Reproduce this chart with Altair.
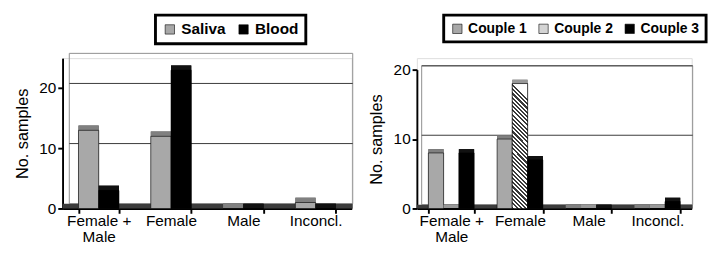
import altair as alt
import pandas as pd

categories = ["Female + Male", "Female", "Male", "Inconcl."]
saliva = [13, 12, 0, 1]
blood = [3, 23, 0, 0]
couple1 = [8, 10, 0, 0]
couple2 = [0, 18, 0, 0]
couple3 = [8, 7, 0, 1]
grid_values = [10, 20]
y_ticks = [0, 10, 20]

left_series = ["Saliva", "Blood"]
right_series = ["Couple 1", "Couple 2", "Couple 3"]

FONT = "Liberation Sans"
H = 157


def make_df(names, values):
    rows = []
    for name, vals in zip(names, values):
        for c, v in zip(categories, vals):
            rows.append({"cat": c, "series": name, "value": v})
    return pd.DataFrame(rows)


left_df = make_df(left_series, [saliva, blood])
right_df = make_df(right_series, [couple1, couple2, couple3])

# diagonal hatch as a striped gradient
N = 30
stops = []
for i in range(N):
    stops += [
        {"offset": i / N, "color": "#ffffff"},
        {"offset": (i + 0.5) / N, "color": "#ffffff"},
        {"offset": (i + 0.5) / N, "color": "#3a3a3a"},
        {"offset": (i + 1) / N, "color": "#3a3a3a"},
    ]
hatch = {"gradient": "linear", "x1": 0.1226, "y1": 0, "x2": 0, "y2": 1, "stops": stops}


def panel(df, series, colors, side_colors, top_colors, ymax, yrange_top, width,
          pad_inner, dx, dy, legend_x, legend_y, legend_font, hatch_series=None):
    x_enc = alt.X(
        "cat:N", sort=categories,
        scale=alt.Scale(domain=categories, paddingInner=pad_inner, paddingOuter=pad_inner / 2),
        axis=alt.Axis(
            title=None, labelAngle=0, tickBand="extent", domainColor="black",
            domainWidth=2, tickColor="black", tickWidth=2, tickSize=5,
            labelPadding=0, labelFontSize=16, labelColor="black", labelLineHeight=17,
            labelExpr="datum.label == 'Female + Male' ? ['Female +', 'Male'] : datum.label",
        ),
    )
    xo_enc = alt.XOffset("series:N", sort=series,
                         scale=alt.Scale(domain=series, paddingInner=0, paddingOuter=0))
    y_axis = alt.Axis(
        title="No. samples", values=y_ticks, grid=False, domainColor="black",
        domainWidth=2, tickColor="black", tickWidth=2, tickSize=5,
        labelFontSize=16, labelColor="black", labelPadding=2,
        titleFontSize=17, titleFontWeight="normal", titleColor="black", titlePadding=8,
    )
    y_enc = alt.Y("value:Q", scale=alt.Scale(domain=[0, ymax], nice=False, range=[H, yrange_top]),
                  axis=y_axis)
    color_enc = alt.Color(
        "series:N", sort=series,
        scale=alt.Scale(domain=series, range=colors),
        legend=alt.Legend(
            orient="none", legendX=legend_x, legendY=legend_y, direction="horizontal",
            title=None, strokeColor="black", fillColor="white",
            padding=7, symbolType="square", symbolSize=95, symbolStrokeColor="black",
            symbolStrokeWidth=0.6, labelFont=FONT, labelFontWeight="bold",
            labelFontSize=legend_font, labelColor="black", labelOffset=4, columnPadding=10,
        ),
    )

    base = alt.Chart(df)

    frame = alt.Chart(df).mark_rect(fillOpacity=0, stroke="#8c8c8c", strokeWidth=1,
                                    yOffset=-dy, y2Offset=-dy).encode(
        x=alt.value(dx), x2=alt.value(width + 1),
        y=alt.datum(ymax, type="quantitative"), y2=alt.datum(0),
    ).transform_filter("datum.cat == 'Male' && datum.series == '%s'" % series[0])

    grid_df = pd.DataFrame({"value": grid_values})
    grid = alt.Chart(grid_df).mark_rule(color="#333333", strokeWidth=1, yOffset=-dy).encode(
        y=y_enc, x=alt.value(dx), x2=alt.value(width + 1),
    )

    floor = alt.Chart(df).mark_rect(color="#3c3c3c", yOffset=-dy).encode(
        x=alt.value(0), x2=alt.value(width + 1),
        y=alt.datum(0, type="quantitative"), y2=alt.datum(0),
    ).transform_filter("datum.cat == 'Male' && datum.series == '%s'" % series[0])

    layers = [frame, grid, floor]
    for i, s in enumerate(series):
        sub = base.transform_filter(alt.datum.series == s)
        back = sub.mark_bar(color=side_colors[i], xOffset=dx, yOffset=-dy, y2Offset=0).encode(
            x=x_enc, xOffset=xo_enc, y=y_enc, y2=alt.datum(0))
        top = sub.mark_bar(color=top_colors[i], xOffset=dx / 2, yOffset=-dy, y2Offset=0).encode(
            x=x_enc, xOffset=xo_enc, y=y_enc, y2=alt.Y2("value:Q"))
        front = sub.mark_bar(stroke="black", strokeWidth=0.6).encode(
            x=x_enc, xOffset=xo_enc, y=y_enc, y2=alt.datum(0), color=color_enc)
        layers += [back, top, front]
        if hatch_series == s:
            h = sub.mark_bar(fill=hatch, stroke="black", strokeWidth=0.6).encode(
                x=x_enc, xOffset=xo_enc, y=y_enc, y2=alt.datum(0))
            layers.append(h)

    return alt.layer(*layers).properties(width=width, height=H)


left = panel(left_df, left_series, ["#a8a8a8", "#000000"], ["#4a4a4a", "#000000"],
             ["#808080", "#111111"], 25, 0, 302, 0.44, 7, 5, 97, -45, 16)
right = panel(right_df, right_series, ["#a8a8a8", "#d4d4d4", "#000000"],
              ["#4a4a4a", "#666666", "#000000"], ["#808080", "#999999", "#111111"],
              20, 12, 287, 0.334, 5, 4, 28, -45, 14.5, hatch_series="Couple 2")

chart = alt.HConcatChart(
    hconcat=[left, right], spacing=14,
    padding={"left": 5, "top": 0, "right": 0, "bottom": 0}
).resolve_scale(
    color="independent", x="independent", y="independent", xOffset="independent"
).resolve_legend(color="independent").configure_view(stroke=None).configure(
    font=FONT
).configure_axis(labelFont=FONT, titleFont=FONT).configure_legend(strokeWidth=3)

chart.save("out.html", embed_options={"renderer": "svg", "actions": False})
